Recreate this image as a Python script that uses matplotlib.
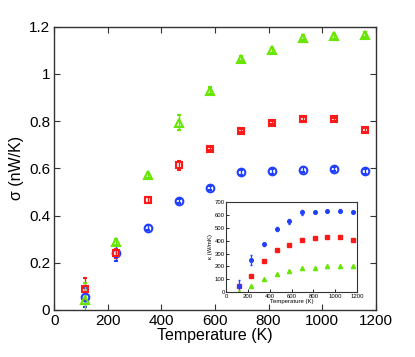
import matplotlib
matplotlib.use("Agg")
import matplotlib.pyplot as plt
import numpy as np

plt.rcParams['font.family'] = ['Liberation Sans', 'DejaVu Sans']

# Data.
temperature_K = [116, 232, 348, 464, 580, 696, 812, 928, 1044, 1160]

sigma_green = [0.043, 0.289, 0.570, 0.794, 0.929, 1.065, 1.100, 1.154, 1.160, 1.166]
sigma_green_err = [0.070, 0.012, 0.012, 0.033, 0.015, 0.010, 0.010, 0.010, 0.010, 0.010]
sigma_red = [0.088, 0.239, 0.465, 0.613, 0.684, 0.760, 0.794, 0.808, 0.807, 0.764]
sigma_red_err = [0.045, 0.020, 0.012, 0.018, 0.008, 0.008, 0.008, 0.008, 0.008, 0.008]
sigma_blue = [0.053, 0.239, 0.349, 0.462, 0.517, 0.583, 0.587, 0.594, 0.597, 0.587]
sigma_blue_err = [0.040, 0.030, 0.010, 0.010, 0.010, 0.010, 0.010, 0.010, 0.010, 0.010]

kappa_blue = [50, 250, 370, 490, 550, 617, 622, 630, 632, 620]
kappa_blue_err = [45, 35, 10, 15, 20, 20, 8, 8, 8, 8]
kappa_red = [48, 125, 245, 325, 365, 405, 420, 428, 428, 407]
kappa_green = [5, 50, 100, 140, 165, 185, 192, 200, 200, 200]

blue = "#2040ff"
red = "#ff1a1a"
green = "#66e600"
frame = "#333333"

fig = plt.figure(figsize=(4.15, 3.57), dpi=100)
ax = fig.add_axes([0.131, 0.132, 0.774, 0.793])

ax.errorbar(temperature_K, sigma_blue, yerr=sigma_blue_err, fmt="o", color=blue,
            mfc="none", mec=blue, ms=5.5, mew=1.5, elinewidth=1.0, capsize=1.5)
ax.errorbar(temperature_K, sigma_red, yerr=sigma_red_err, fmt="s", color=red,
            mfc="none", mec=red, ms=5, mew=1.5, elinewidth=1.0, capsize=1.5)
ax.errorbar(temperature_K, sigma_green, yerr=sigma_green_err, fmt="^", color=green,
            mfc="none", mec=green, ms=6, mew=1.5, elinewidth=1.0, capsize=1.5)

ax.set_xlim(0, 1200)
ax.set_ylim(0, 1.2)
ax.set_xticks([0, 200, 400, 600, 800, 1000, 1200])
ax.set_yticks([0, 0.2, 0.4, 0.6, 0.8, 1.0, 1.2])
ax.set_yticklabels(["0", "0.2", "0.4", "0.6", "0.8", "1", "1.2"])
ax.tick_params(direction="in", top=True, right=True, labelsize=11,
               length=4, width=0.8, color=frame, pad=3)
for spine in ax.spines.values():
    spine.set_color(frame)
    spine.set_linewidth(1.0)
ax.set_xlabel("Temperature (K)", fontsize=11.5, labelpad=0)
ax.set_ylabel("σ (nW/K)", fontsize=11.5, labelpad=4)

# inset: thermal conductivity
ins = fig.add_axes([0.545, 0.181, 0.315, 0.254])
ins.errorbar(temperature_K, kappa_blue, yerr=kappa_blue_err, fmt="o", color=blue,
             ms=2.6, elinewidth=0.9, capsize=1)
ins.plot(temperature_K, kappa_red, "s", color=red, ms=2.4)
ins.plot(temperature_K, kappa_green, "^", color=green, ms=3)
ins.set_xlim(0, 1200)
ins.set_ylim(0, 700)
ins.set_xticks(np.arange(0, 1201, 200))
ins.set_yticks(np.arange(0, 701, 100))
ins.tick_params(direction="in", labelsize=4.3, length=2, width=0.6, pad=1)
for spine in ins.spines.values():
    spine.set_color(frame)
    spine.set_linewidth(0.8)
ins.set_xlabel("Temperature (K)", fontsize=4.3, labelpad=0)
ins.set_ylabel("κ (W/mK)", fontsize=4.3, labelpad=1)

fig.savefig("out.png", dpi=100)
